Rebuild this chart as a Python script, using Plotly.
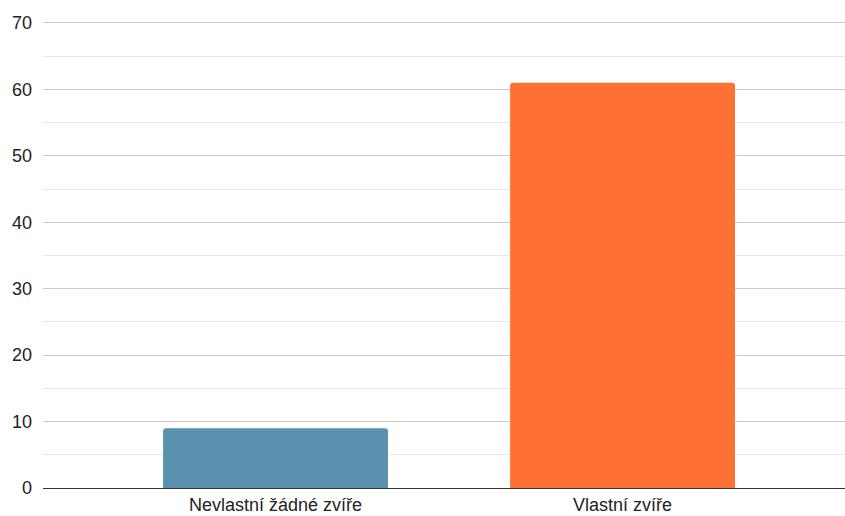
import plotly.graph_objects as go

categories = ["Nevlastní žádné zvíře", "Vlastní zvíře"]
values = [9, 61]
colors = ["#5991ae", "#ff7133"]

fig = go.Figure()
fig.add_trace(go.Bar(
    x=list(range(len(categories))), y=values,
    marker=dict(color=colors, line=dict(width=0)),
    width=0.648,
    hoverinfo="skip",
))

fig.update_layout(
    width=845, height=516,
    margin=dict(l=43, r=0, t=21, b=28),
    paper_bgcolor="white", plot_bgcolor="white",
    showlegend=False,
    barcornerradius=3,
    font=dict(family="Liberation Sans, Arial, sans-serif", size=18, color="#222222"),
    xaxis=dict(
        range=[-0.670, 1.641], automargin=False,
        tickmode="array", tickvals=list(range(len(categories))), ticktext=categories,
        showgrid=False, zeroline=False, showline=False, ticks="",
        tickfont=dict(size=18, color="#222222"),
        ticklabelstandoff=4,
    ),
    yaxis=dict(
        range=[0, 70.3], automargin=False, tickmode="linear", tick0=0, dtick=10,
        showgrid=True, gridcolor="#cccccc", gridwidth=1,
        minor=dict(dtick=5, showgrid=True, gridcolor="#e8e8e8", gridwidth=1),
        zeroline=True, zerolinecolor="#333333", zerolinewidth=1,
        showline=False, ticks="",
        tickfont=dict(size=18, color="#222222"),
        ticklabelstandoff=10,
    ),
)

fig.write_html(
    "out.html",
    config={"displayModeBar": False},
    post_script="document.body.style.margin='0';document.body.style.padding='0';window.dispatchEvent(new Event('resize'));",
)
